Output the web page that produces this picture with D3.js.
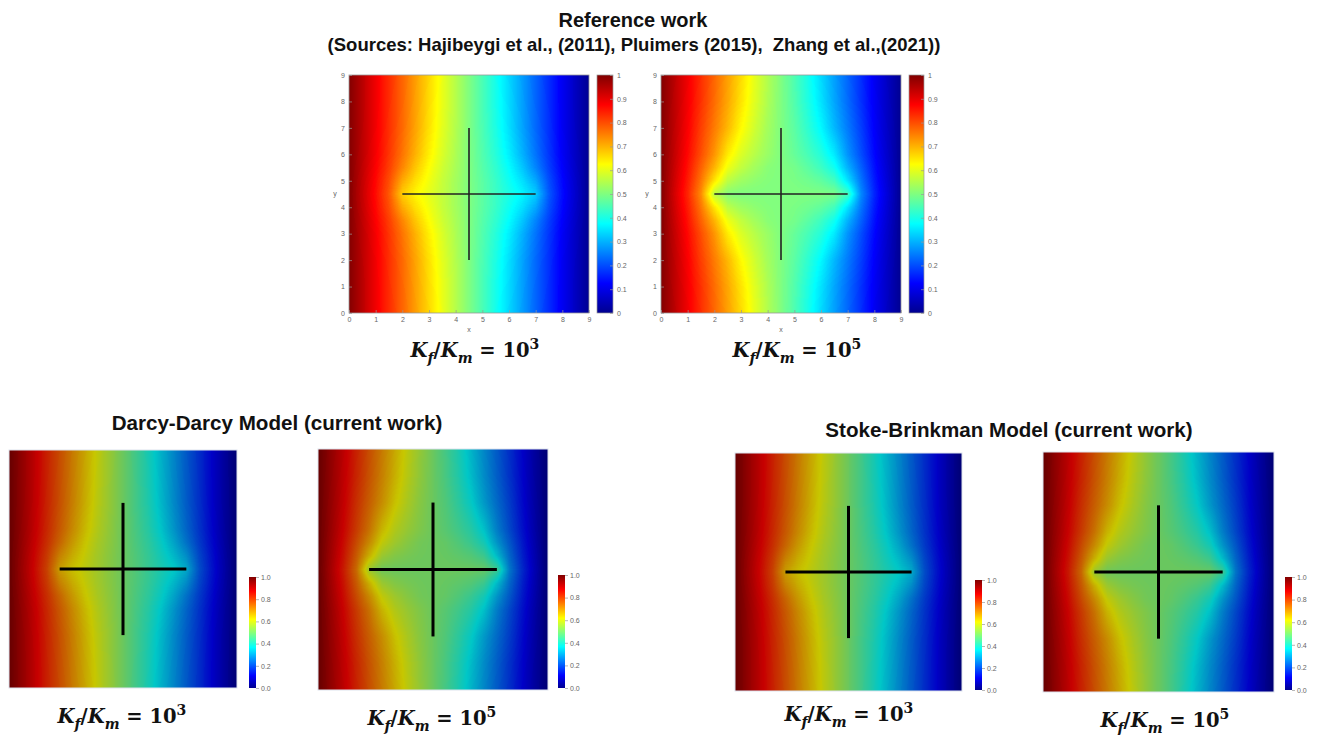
<!DOCTYPE html>
<html lang="en">
<head>
<meta charset="utf-8">
<script src="https://cdn.jsdelivr.net/npm/d3@7"></script>
<style>
  body { margin: 0; background: #fff; }
  .ax text { font-family: "Liberation Sans", Arial, sans-serif; font-size: 7px; fill: #666; }
  .ax path, .ax line { stroke: #999; stroke-width: 0.7; }
  .title { font-family: "Liberation Sans", Arial, sans-serif; font-weight: bold; fill: #111; text-anchor: middle; }
  .ratio { font-family: "DejaVu Serif", serif; font-weight: bold; fill: #111; text-anchor: middle; }
</style>
</head>
<body>
<script>
// grid nodes (domain 0..9 in both directions)
const xGrid = [0, 1, 1.5, 2, 2.5, 3, 3.5, 4, 4.5, 5, 5.5, 6, 6.5, 7, 7.5, 8, 9];
const yGrid = [0, 1, 2, 3, 3.5, 4, 4.5, 5, 5.5, 6, 7, 8, 9];

// pressure, rows from y=0 (bottom) to y=9 (top)
const field1e3 = [
  [1, .889, .833, .778, .72, .664, .607, .553, .5, .447, .393, .336, .28, .222, .167, .111, 0],
  [1, .889, .832, .776, .718, .66, .604, .552, .5, .448, .396, .34, .282, .224, .168, .111, 0],
  [1, .888, .83, .773, .714, .655, .598, .55, .5, .45, .402, .345, .286, .227, .17, .112, 0],
  [1, .884, .824, .762, .7, .64, .588, .544, .5, .456, .412, .36, .3, .238, .176, .116, 0],
  [1, .878, .815, .745, .68, .625, .578, .54, .5, .46, .422, .375, .32, .255, .185, .122, 0],
  [1, .87, .8, .71, .655, .612, .57, .535, .5, .465, .43, .388, .345, .29, .2, .13, 0],
  [1, .865, .79, .675, .632, .6, .567, .533, .5, .467, .433, .4, .368, .325, .21, .135, 0],
  [1, .87, .8, .71, .655, .612, .57, .535, .5, .465, .43, .388, .345, .29, .2, .13, 0],
  [1, .878, .815, .745, .68, .625, .578, .54, .5, .46, .422, .375, .32, .255, .185, .122, 0],
  [1, .884, .824, .762, .7, .64, .588, .544, .5, .456, .412, .36, .3, .238, .176, .116, 0],
  [1, .888, .83, .773, .714, .655, .598, .55, .5, .45, .402, .345, .286, .227, .17, .112, 0],
  [1, .889, .832, .776, .718, .66, .604, .552, .5, .448, .396, .34, .282, .224, .168, .111, 0],
  [1, .889, .833, .778, .72, .664, .607, .553, .5, .447, .393, .336, .28, .222, .167, .111, 0]
];
const field1e5 = [
  [1, .889, .832, .776, .719, .661, .603, .549, .5, .451, .397, .339, .281, .224, .168, .111, 0],
  [1, .886, .828, .77, .712, .652, .595, .545, .5, .455, .405, .348, .288, .23, .172, .114, 0],
  [1, .88, .815, .755, .695, .63, .58, .535, .5, .465, .42, .37, .305, .245, .185, .12, 0],
  [1, .87, .8, .73, .645, .59, .555, .525, .5, .475, .445, .41, .355, .27, .2, .13, 0],
  [1, .86, .78, .7, .61, .565, .535, .51, .5, .49, .465, .435, .39, .3, .22, .14, 0],
  [1, .85, .76, .65, .56, .53, .515, .505, .5, .495, .485, .47, .44, .35, .24, .15, 0],
  [1, .84, .74, .56, .505, .5, .5, .5, .5, .5, .5, .5, .495, .44, .26, .16, 0],
  [1, .85, .76, .65, .56, .53, .515, .505, .5, .495, .485, .47, .44, .35, .24, .15, 0],
  [1, .86, .78, .7, .61, .565, .535, .51, .5, .49, .465, .435, .39, .3, .22, .14, 0],
  [1, .87, .8, .73, .645, .59, .555, .525, .5, .475, .445, .41, .355, .27, .2, .13, 0],
  [1, .88, .815, .755, .695, .63, .58, .535, .5, .465, .42, .37, .305, .245, .185, .12, 0],
  [1, .886, .828, .77, .712, .652, .595, .545, .5, .455, .405, .348, .288, .23, .172, .114, 0],
  [1, .889, .832, .776, .719, .661, .603, .549, .5, .451, .397, .339, .281, .224, .168, .111, 0]
];

// the cross-shaped fracture: [start, end] in domain units
const fractures = [[[2, 4.5], [7, 4.5]], [[4.5, 2], [4.5, 7]]];

const axisTicks = [0, 1, 2, 3, 4, 5, 6, 7, 8, 9];
const jetTicks = [0, 0.1, 0.2, 0.3, 0.4, 0.5, 0.6, 0.7, 0.8, 0.9, 1];
const pvTicks = [0, 0.2, 0.4, 0.6, 0.8, 1];

const jetStops = [0, 0.125, 0.375, 0.625, 0.875, 1];
const jetColors = ["#00008f", "#0000ff", "#00ffff", "#ffff00", "#ff0000", "#800000"];
const pvStops = [0, 0.11, 0.365, 0.492, 0.619, 0.873, 1];
const pvColors = ["#000090", "#0000ff", "#00ffff", "#80ff80", "#ffff00", "#ff0000", "#800000"];

const W = 1320, H = 735;
const svg = d3.select("body").append("svg").attr("width", W).attr("height", H);
const defs = svg.append("defs");

function makeLut(stops, colors, k) {
  const sc = d3.scaleLinear().domain(stops).range(colors).interpolate(d3.interpolateRgb).clamp(true);
  return d3.range(256).map(i => {
    const c = d3.rgb(sc(i / 255));
    return [c.r * k, c.g * k, c.b * k];
  });
}
const jetLut = makeLut(jetStops, jetColors, 1);
const pvLut = makeLut(pvStops, pvColors, 0.78);

function fieldAt(field, gx, gy) {
  const i = Math.max(0, Math.min(d3.bisectRight(xGrid, gx) - 1, xGrid.length - 2));
  const j = Math.max(0, Math.min(d3.bisectRight(yGrid, gy) - 1, yGrid.length - 2));
  const tx = (gx - xGrid[i]) / (xGrid[i + 1] - xGrid[i]);
  const ty = (gy - yGrid[j]) / (yGrid[j + 1] - yGrid[j]);
  const a = field[j][i] * (1 - tx) + field[j][i + 1] * tx;
  const b = field[j + 1][i] * (1 - tx) + field[j + 1][i + 1] * tx;
  return a * (1 - ty) + b * ty;
}

function heatImage(field, w, h, lut) {
  const cv = document.createElement("canvas");
  cv.width = w; cv.height = h;
  const ctx = cv.getContext("2d");
  const img = ctx.createImageData(w, h);
  const xs = d3.scaleLinear().domain([0, 9]).range([0, w]);
  const ys = d3.scaleLinear().domain([0, 9]).range([h, 0]);
  for (let py = 0; py < h; py++) {
    for (let px = 0; px < w; px++) {
      const v = fieldAt(field, xs.invert(px + 0.5), ys.invert(py + 0.5));
      const c = lut[Math.max(0, Math.min(255, Math.round(v * 255)))];
      const o = (py * w + px) * 4;
      img.data[o] = c[0]; img.data[o + 1] = c[1]; img.data[o + 2] = c[2]; img.data[o + 3] = 255;
    }
  }
  ctx.putImageData(img, 0, 0);
  return cv.toDataURL();
}

let gradId = 0;
function colorbar(cb, stops, colors, ticks, fmt, matlab) {
  const id = "grad" + (gradId++);
  const g = defs.append("linearGradient").attr("id", id)
    .attr("x1", 0).attr("y1", 1).attr("x2", 0).attr("y2", 0);
  stops.forEach((s, i) => g.append("stop").attr("offset", s).attr("stop-color", colors[i]));
  svg.append("rect").attr("x", cb.x).attr("y", cb.y).attr("width", cb.w).attr("height", cb.h)
    .attr("fill", "url(#" + id + ")")
    .attr("stroke", matlab ? "#999" : "none").attr("stroke-width", 0.7);
  const cs = d3.scaleLinear().domain([0, 1]).range([cb.y + cb.h, cb.y]);
  const ax = d3.axisRight(cs).tickValues(ticks).tickFormat(fmt)
    .tickSize(matlab ? -3 : 3).tickPadding(matlab ? 4 : 2);
  svg.append("g").attr("class", "ax").attr("transform", "translate(" + (cb.x + cb.w) + ",0)")
    .call(ax).call(g => g.select(".domain").remove());
}

function ratioLabel(lab, size) {
  const t = svg.append("text").attr("class", "ratio").attr("x", lab.cx).attr("y", lab.by)
    .attr("font-size", size);
  const sub = size * 0.3;
  t.append("tspan").attr("font-style", "italic").text("K");
  t.append("tspan").attr("font-style", "italic").attr("font-size", size * 0.72).attr("dy", sub).text("f");
  t.append("tspan").attr("dy", -sub).text("/");
  t.append("tspan").attr("font-style", "italic").text("K");
  t.append("tspan").attr("font-style", "italic").attr("font-size", size * 0.72).attr("dy", sub).text("m");
  t.append("tspan").attr("dy", -sub).text(" = 10");
  t.append("tspan").attr("font-size", size * 0.72).attr("dy", -size * 0.42).text(lab.exp);
}

const panels = [
  { x: 349, y: 75, w: 240, h: 238, field: field1e3, matlab: true,
    cb: { x: 597, y: 75, w: 16, h: 238 }, lab: { cx: 475, by: 357, exp: "3" }, xlab: "x" },
  { x: 661, y: 75, w: 240, h: 238, field: field1e5, matlab: true,
    cb: { x: 909, y: 75, w: 15, h: 238 }, lab: { cx: 797, by: 357, exp: "5" }, xlab: "x" },
  { x: 9, y: 450, w: 228, h: 238, field: field1e3, matlab: false,
    cb: { x: 249, y: 577, w: 7, h: 111 }, lab: { cx: 122, by: 723, exp: "3" } },
  { x: 318, y: 449, w: 230, h: 241, field: field1e5, matlab: false,
    cb: { x: 558, y: 575, w: 7, h: 113 }, lab: { cx: 432, by: 725, exp: "5" } },
  { x: 735, y: 453, w: 227, h: 238, field: field1e3, matlab: false,
    cb: { x: 975, y: 580, w: 7, h: 110 }, lab: { cx: 849, by: 721, exp: "3" } },
  { x: 1043, y: 452, w: 231, h: 240, field: field1e5, matlab: false,
    cb: { x: 1285, y: 577, w: 7, h: 113 }, lab: { cx: 1165, by: 727, exp: "5" } }
];

panels.forEach(p => {
  const xs = d3.scaleLinear().domain([0, 9]).range([p.x, p.x + p.w]);
  const ys = d3.scaleLinear().domain([0, 9]).range([p.y + p.h, p.y]);

  svg.append("image").attr("x", p.x).attr("y", p.y).attr("width", p.w).attr("height", p.h)
    .attr("preserveAspectRatio", "none")
    .attr("href", heatImage(p.field, p.w, p.h, p.matlab ? jetLut : pvLut));

  svg.append("rect").attr("x", p.x).attr("y", p.y).attr("width", p.w).attr("height", p.h)
    .attr("fill", "none").attr("stroke", p.matlab ? "#999" : "#dde3ee").attr("stroke-width", p.matlab ? 0.8 : 1);

  svg.append("g").selectAll("line").data(fractures).join("line")
    .attr("x1", d => xs(d[0][0])).attr("y1", d => ys(d[0][1]))
    .attr("x2", d => xs(d[1][0])).attr("y2", d => ys(d[1][1]))
    .attr("stroke", p.matlab ? "#222" : "#000")
    .attr("stroke-width", p.matlab ? 1.6 : 3);

  if (p.matlab) {
    svg.append("g").attr("class", "ax").attr("transform", "translate(0," + (p.y + p.h) + ")")
      .call(d3.axisBottom(xs).tickValues(axisTicks).tickSize(-3).tickPadding(4))
      .call(g => g.select(".domain").remove());
    svg.append("g").attr("class", "ax").attr("transform", "translate(" + p.x + ",0)")
      .call(d3.axisLeft(ys).tickValues(axisTicks).tickSize(-3).tickPadding(4))
      .call(g => g.select(".domain").remove());
    svg.append("text").attr("x", p.x + p.w / 2).attr("y", p.y + p.h + 19)
      .attr("text-anchor", "middle").attr("font-family", "Liberation Sans, Arial, sans-serif")
      .attr("font-size", 7).attr("fill", "#666").text(p.xlab);
    svg.append("text").attr("x", p.x - 14).attr("y", ys(4.5) + 2)
      .attr("text-anchor", "middle").attr("font-family", "Liberation Sans, Arial, sans-serif")
      .attr("font-size", 7).attr("fill", "#666").text("y");
    colorbar(p.cb, jetStops, jetColors, jetTicks, d3.format("~g"), true);
  } else {
    colorbar(p.cb, pvStops, pvColors, pvTicks, d3.format(".1f"), false);
  }
  ratioLabel(p.lab, 19.5);
});

svg.append("text").attr("class", "title").attr("x", 633).attr("y", 27).attr("font-size", 20)
  .text("Reference work");
svg.append("text").attr("class", "title").attr("x", 634).attr("y", 51).attr("font-size", 18.5)
  .text("(Sources: Hajibeygi et al., (2011), Pluimers (2015),  Zhang et al.,(2021))")
  .style("white-space", "pre");
svg.append("text").attr("class", "title").attr("x", 277).attr("y", 430).attr("font-size", 20.6)
  .text("Darcy-Darcy Model (current work)");
svg.append("text").attr("class", "title").attr("x", 1009).attr("y", 437).attr("font-size", 20.6)
  .text("Stoke-Brinkman Model (current work)");
</script>
</body>
</html>
